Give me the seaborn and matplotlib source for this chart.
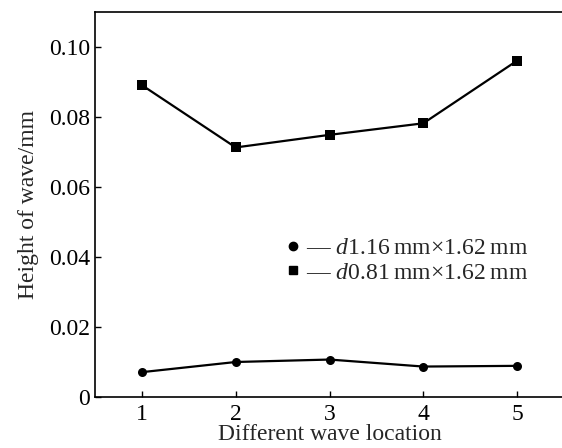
import matplotlib
matplotlib.use("Agg")
import matplotlib.pyplot as plt
import seaborn as sns
import pandas as pd
from matplotlib.lines import Line2D

# values
locations = [1, 2, 3, 4, 5]
h_116 = [0.0071, 0.0100, 0.0107, 0.0087, 0.0089]
h_081 = [0.0891, 0.0713, 0.0749, 0.0782, 0.0961]
series_names = ["d1.16", "d0.81"]
legend_labels = ["\u2014 $d$1.16\u2009mm\u00d71.62\u2009mm", "\u2014 $d$0.81\u2009mm\u00d71.62\u2009mm"]
yticks = [0, 0.02, 0.04, 0.06, 0.08, 0.10]
ytick_labels = ["0", "0.02", "0.04", "0.06", "0.08", "0.10"]

df = pd.DataFrame({
    "loc": locations * 2,
    "h": h_116 + h_081,
    "series": [series_names[0]] * 5 + [series_names[1]] * 5,
})

sns.set_style("ticks")
plt.rcParams["font.family"] = ["Liberation Serif", "DejaVu Serif"]
plt.rcParams["mathtext.fontset"] = "custom"
plt.rcParams["mathtext.it"] = "Liberation Serif:italic"
plt.rcParams["mathtext.rm"] = "Liberation Serif"

fig = plt.figure(figsize=(5.62, 4.48), dpi=100)
ax = fig.add_axes([95 / 562, 51 / 448, 469 / 562, 385 / 448])

sns.lineplot(data=df, x="loc", y="h", style="series", markers={"d1.16": "o", "d0.81": "s"},
             dashes=False, color="black", linewidth=1.6, markersize=6.5, markeredgewidth=0,
             legend=False, ax=ax)

ax.set_xlim(0.5, 5.5)
ax.set_ylim(0, 0.11)
ax.set_xticks(locations)
ax.set_yticks(yticks)
ax.set_yticklabels(ytick_labels)
ax.tick_params(direction="in", length=4, width=1, labelsize=17, colors="black")
ax.tick_params(axis="x", pad=5)
for s in ax.spines.values():
    s.set_linewidth(1.2)
    s.set_color("black")

ax.set_xlabel("Different wave location", fontsize=17, labelpad=-1)
ax.set_ylabel("Height of wave/mm", fontsize=17, labelpad=7)

handles = [Line2D([], [], marker="o", color="black", linestyle="none", markersize=6),
           Line2D([], [], marker="s", color="black", linestyle="none", markersize=6)]
ax.legend(handles, legend_labels, loc="upper left", bbox_to_anchor=(0.385, 0.444), frameon=False,
          fontsize=17, handlelength=0.5, handletextpad=0.3, labelspacing=0.12, borderpad=0)

fig.savefig("out.png", dpi=100)
